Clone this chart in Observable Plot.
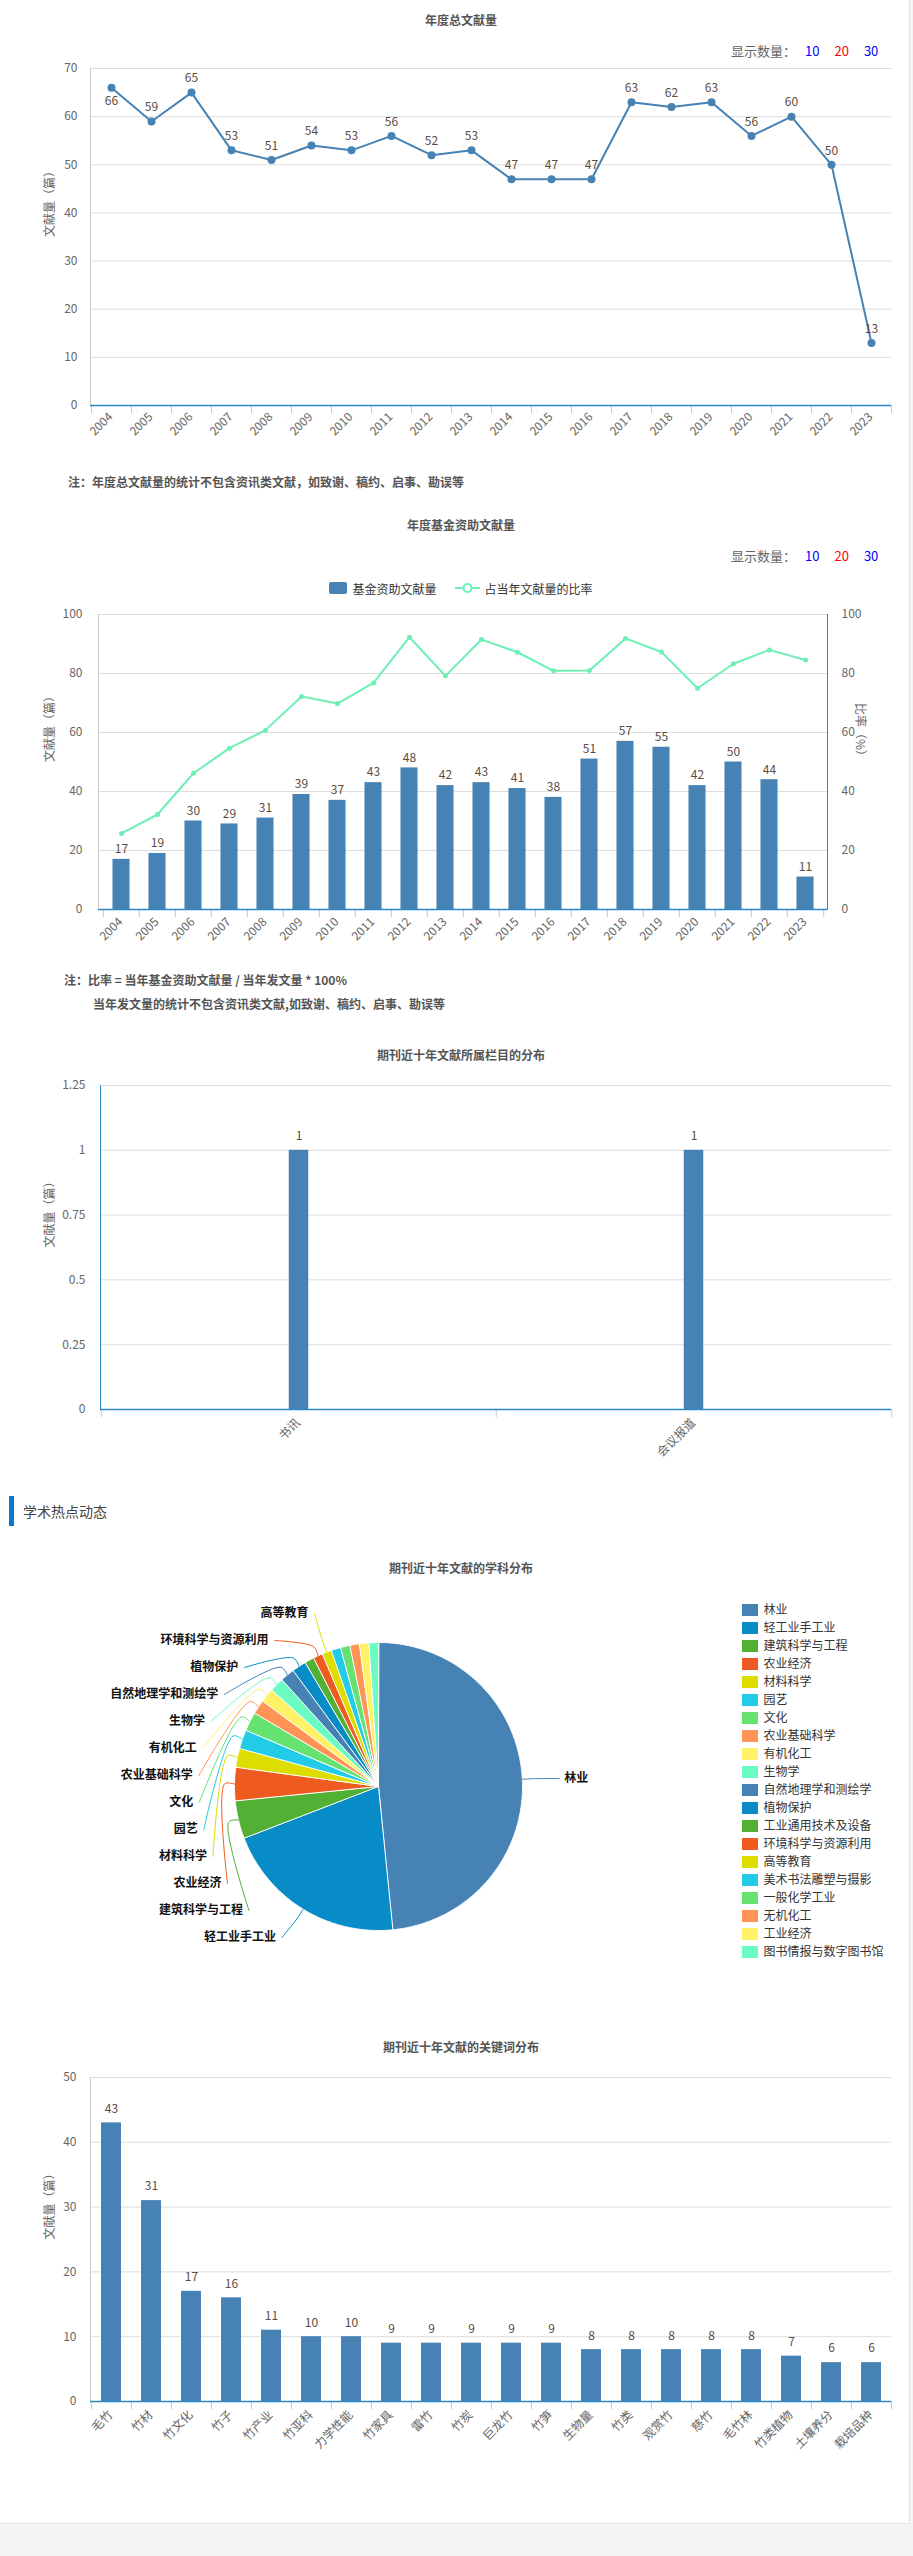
<!DOCTYPE html>
<html><head><meta charset="utf-8">
<script src="https://cdn.jsdelivr.net/npm/d3@7"></script>
<script src="https://cdn.jsdelivr.net/npm/@observablehq/plot@0.6"></script>
<style>
html,body{margin:0;padding:0;background:#f4f4f4;font-family:"Noto Sans CJK SC","Noto Sans",sans-serif;}
#page{position:relative;width:909px;height:2523px;background:#fff;border-right:1px solid #e2e2e2;border-bottom:1px solid #e2e2e2;overflow:visible;}
.chart{position:absolute;left:0;width:913px;}
.title{position:absolute;left:0;width:922px;text-align:center;font-size:12px;line-height:16px;font-weight:bold;color:#555;}
.count{position:absolute;left:731px;font-size:13px;line-height:18px;color:#666;white-space:nowrap;}
.count span{display:inline-block;margin-left:15px;}
.note{position:absolute;font-size:12px;line-height:16px;font-weight:bold;color:#555;white-space:nowrap;}
</style></head>
<body><div id="page">
<div class="title" style="top:12px">年度总文献量</div>
<div class="count" style="top:42px">显示数量：<span style="color:#0000ff;margin-left:9px">10</span><span style="color:#ff0000">20</span><span style="color:#0000ff">30</span></div>
<div class="note" style="top:474px;left:68px">注：年度总文献量的统计不包含资讯类文献，如致谢、稿约、启事、勘误等</div>

<div class="title" style="top:517px">年度基金资助文献量</div>
<div class="count" style="top:547px">显示数量：<span style="color:#0000ff;margin-left:9px">10</span><span style="color:#ff0000">20</span><span style="color:#0000ff">30</span></div>
<div style="position:absolute;top:580px;left:0;width:922px;display:flex;justify-content:center;align-items:center;font-size:12px;color:#333;height:16px">
  <span style="display:inline-block;width:18px;height:12px;background:#4682b4;border-radius:2px"></span>
  <span style="margin-left:5px">基金资助文献量</span>
  <svg width="25" height="14" style="margin-left:18px"><line x1="0" y1="7" x2="25" y2="7" stroke="#6cf0b4" stroke-width="2"/><circle cx="12.5" cy="7" r="4" fill="#fff" stroke="#6cf0b4" stroke-width="2"/></svg>
  <span style="margin-left:5px">占当年文献量的比率</span>
</div>
<div class="note" style="top:972px;left:64px">注：比率 = 当年基金资助文献量 / 当年发文量 * 100%</div>
<div class="note" style="top:996px;left:93px">当年发文量的统计不包含资讯类文献,如致谢、稿约、启事、勘误等</div>

<div class="title" style="top:1047px">期刊近十年文献所属栏目的分布</div>

<div style="position:absolute;left:9px;top:1496px;width:5px;height:30px;background:#0a78d2"></div>
<div style="position:absolute;left:23px;top:1501px;font-size:14px;line-height:20px;color:#444">学术热点动态</div>

<div class="title" style="top:1560px">期刊近十年文献的学科分布</div>
<div class="title" style="top:2039px">期刊近十年文献的关键词分布</div>
</div>
<script>
// ---------- data ----------
const years = ["2004","2005","2006","2007","2008","2009","2010","2011","2012","2013","2014","2015","2016","2017","2018","2019","2020","2021","2022","2023"];
const totalCounts = [66,59,65,53,51,54,53,56,52,53,47,47,47,63,62,63,56,60,50,13];
const fundCounts = [17,19,30,29,31,39,37,43,48,42,43,41,38,51,57,55,42,50,44,11];
const fundRatio = [25.8,32.2,46.2,54.7,60.8,72.2,69.8,76.8,92.3,79.2,91.5,87.2,80.9,81.0,91.9,87.3,75.0,83.3,88.0,84.6];
const columnNames = ["书讯","会议报道"];
const columnCounts = [1,1];
const subjectNames = ["林业","轻工业手工业","建筑科学与工程","农业经济","材料科学","园艺","文化","农业基础科学","有机化工","生物学","自然地理学和测绘学","植物保护","工业通用技术及设备","环境科学与资源利用","高等教育","美术书法雕塑与摄影","一般化学工业","无机化工","工业经济","图书情报与数字图书馆"];
const subjectCounts = [91,39,8,7,4,4,4,3,3,3,3,3,2,2,2,2,2,2,2,2];
const hiddenPieLabels = ["工业通用技术及设备","美术书法雕塑与摄影","一般化学工业","无机化工","工业经济","图书情报与数字图书馆"];
const palette = ["#4682b4","#078cc8","#52b135","#ee5a1f","#dddd00","#22cce6","#66e270","#ff9456","#fff266","#6bfcc4"];
const keywordNames = ["毛竹","竹材","竹文化","竹子","竹产业","竹亚科","力学性能","竹家具","雷竹","竹炭","巨龙竹","竹笋","生物量","竹类","观赏竹","慈竹","毛竹林","竹类植物","土壤养分","栽培品种"];
const keywordCounts = [43,31,17,16,11,10,10,9,9,9,9,9,8,8,8,8,8,7,6,6];

// ---------- styles ----------
const FONT = '"Noto Sans CJK SC","Noto Sans",sans-serif';
const BLUE = "#4682b4", GREEN = "#6cf0b4", AXIS = "#2b88c8", TICK = "#b9cadb", GRID = "#dddddd", TXT = "#666", LBL = "#5b4d45";
const style = {fontSize: "12px", fontFamily: FONT, color: TXT, background: "transparent", overflow: "visible", maxWidth: "none"};
const page = document.getElementById("page");
function mount(top, svg) { const d = document.createElement("div"); d.className = "chart"; d.style.top = top + "px"; d.appendChild(svg); page.appendChild(d); }

function catAxis(domain, step, labelDy) {
  return [
    Plot.axisX({ticks: domain, tickSize: 8, tickFormat: () => "", dx: -step / 2, stroke: TICK, label: null}),
    Plot.axisX({ticks: [domain[domain.length - 1]], tickSize: 8, tickFormat: () => "", dx: step / 2, stroke: TICK, label: null}),
    Plot.ruleY([0], {stroke: AXIS, strokeWidth: 1.5}),
    Plot.text(domain, {x: d => d, frameAnchor: "bottom", dy: labelDy, dx: 2, rotate: -45, textAnchor: "end", fill: TXT})
  ];
}

// ---------- chart 1 ----------
{
  const W = 913, ml = 90, mr = 22;
  const step = (W - ml - mr) / years.length;
  const d1 = years.map((year, i) => ({year, v: totalCounts[i]}));
  mount(60, Plot.plot({
    width: W, height: 400, marginLeft: ml, marginRight: mr, marginTop: 8, marginBottom: 55, style,
    x: {type: "point", domain: years, padding: 0.5},
    y: {domain: [0, 70]},
    marks: [
      Plot.gridY(d3.range(10, 71, 10), {stroke: GRID, strokeOpacity: 1}),
      Plot.frame({anchor: "left", stroke: "#cccccc"}),
      Plot.axisY({ticks: d3.range(0, 71, 10), tickSize: 0, tickPadding: 13, label: null, fill: TXT}),
      ...catAxis(years, step, 12),
      Plot.text(["文献量（篇）"], {frameAnchor: "left", dx: -40, rotate: -90, fill: TXT}),
      Plot.line(d1, {x: "year", y: "v", stroke: BLUE, strokeWidth: 2}),
      Plot.dot(d1, {x: "year", y: "v", r: 4, fill: BLUE}),
      Plot.text(d1.slice(0, 1), {x: "year", y: "v", text: d => String(d.v), dy: 13, fill: LBL}),
      Plot.text(d1.slice(1), {x: "year", y: "v", text: d => String(d.v), dy: -14, fill: LBL})
    ]
  }));
}

// ---------- chart 2 ----------
{
  const W = 913, ml = 98, mr = 86;
  const step = (W - ml - mr) / years.length;
  const inset = (step - 17.5) / 2;
  const d2 = years.map((year, i) => ({year, v: fundCounts[i], r: fundRatio[i]}));
  mount(600, Plot.plot({
    width: W, height: 360, marginLeft: ml, marginRight: mr, marginTop: 14, marginBottom: 51, style,
    x: {type: "band", domain: years, padding: 0},
    y: {domain: [0, 100]},
    marks: [
      Plot.gridY(d3.range(20, 101, 20), {stroke: GRID, strokeOpacity: 1}),
      Plot.frame({anchor: "left", stroke: "#cccccc"}),
      Plot.frame({anchor: "right", stroke: AXIS}),
      Plot.axisY({ticks: d3.range(0, 101, 20), tickSize: 0, tickPadding: 16, label: null, fill: TXT}),
      Plot.axisY({anchor: "right", ticks: d3.range(0, 101, 20), tickSize: 0, tickPadding: 14, label: null, fill: TXT}),
      Plot.barY(d2, {x: "year", y: "v", fill: BLUE, insetLeft: inset, insetRight: inset}),
      ...catAxis(years, step, 13),
      Plot.text(d2, {x: "year", y: "v", text: d => String(d.v), dy: -10, fill: LBL}),
      Plot.line(d2, {x: "year", y: "r", stroke: GREEN, strokeWidth: 2}),
      Plot.dot(d2, {x: "year", y: "r", r: 2.5, fill: GREEN}),
      Plot.text(["文献量（篇）"], {frameAnchor: "left", dx: -48, rotate: -90, fill: TXT}),
      Plot.text(["比率（%）"], {frameAnchor: "right", dx: 32, rotate: 90, fill: TXT})
    ]
  }));
}

// ---------- chart 3 ----------
{
  const W = 913, ml = 100, mr = 22;
  const step = (W - ml - mr) / columnNames.length;
  const inset = (step - 20) / 2;
  const d3c = columnNames.map((name, i) => ({name, v: columnCounts[i]}));
  mount(1070, Plot.plot({
    width: W, height: 400, marginLeft: ml, marginRight: mr, marginTop: 15, marginBottom: 61, style,
    x: {type: "band", domain: columnNames, padding: 0},
    y: {domain: [0, 1.25]},
    marks: [
      Plot.gridY([0.25, 0.5, 0.75, 1, 1.25], {stroke: GRID, strokeOpacity: 1}),
      Plot.frame({anchor: "left", stroke: AXIS}),
      Plot.axisY({ticks: [0, 0.25, 0.5, 0.75, 1, 1.25], tickFormat: d => String(d), tickSize: 0, tickPadding: 15, label: null, fill: TXT}),
      Plot.barY(d3c, {x: "name", y: "v", fill: BLUE, insetLeft: inset, insetRight: inset}),
      ...catAxis(columnNames, step, 14),
      Plot.text(d3c, {x: "name", y: "v", text: d => String(d.v), dy: -14, fill: LBL}),
      Plot.text(["文献量（篇）"], {frameAnchor: "left", dx: -50, rotate: -90, fill: TXT})
    ]
  }));
}

// ---------- chart 4 (pie) ----------
{
  const W = 913, H = 400, cx = 378, cy = 196, R = 144;
  const subjects = subjectNames.map((name, i) => ({name, count: subjectCounts[i]}));
  const arcs = d3.pie().sort(null).value(d => d.count)(subjects);
  const colors = subjectNames.map((_, i) => palette[i % palette.length]);
  const slicePts = [];
  arcs.forEach(a => {
    const name = a.data.name;
    const n = Math.max(2, Math.ceil((a.endAngle - a.startAngle) / (Math.PI / 360)));
    slicePts.push({name, x: cx, y: cy});
    for (let k = 0; k <= n; k++) {
      const t = a.startAngle + (a.endAngle - a.startAngle) * k / n;
      slicePts.push({name, x: cx + R * Math.sin(t), y: cy - R * Math.cos(t)});
    }
  });
  const hidden = new Set(hiddenPieLabels);
  const mid = a => (a.startAngle + a.endAngle) / 2;
  const offset = dy => Math.max(70, 186 * Math.sqrt(Math.max(0, 1 - (dy / 181) ** 2)));
  const leftArcs = arcs.filter(a => mid(a) > Math.PI && !hidden.has(a.data.name)).reverse();
  const rightArcs = arcs.filter(a => mid(a) <= Math.PI && !hidden.has(a.data.name));
  const leftLabels = leftArcs.map((a, i) => {
    const y = 23 + 27 * i;
    return {a, name: a.data.name, x: cx - offset(y - cy), y};
  });
  const rightLabels = rightArcs.map(a => {
    const y = cy - (R + 16) * Math.cos(mid(a));
    return {a, name: a.data.name, x: cx + offset(y - cy), y};
  });
  const leader = [];
  leftLabels.forEach(l => {
    const m = mid(l.a);
    leader.push({name: l.name, x: cx + R * Math.sin(m), y: cy - R * Math.cos(m)});
    leader.push({name: l.name, x: cx + (R + 10) * Math.sin(m), y: cy - (R + 10) * Math.cos(m)});
    leader.push({name: l.name, x: l.x + 6, y: l.y});
  });
  rightLabels.forEach(l => {
    const m = mid(l.a);
    leader.push({name: l.name, x: cx + R * Math.sin(m), y: cy - R * Math.cos(m)});
    leader.push({name: l.name, x: cx + (R + 12) * Math.sin(m), y: cy - (R + 12) * Math.cos(m)});
    leader.push({name: l.name, x: l.x - 5, y: l.y});
  });
  const legendItems = subjectNames.map((name, i) => ({name, y: 20 + 18 * i}));
  mount(1590, Plot.plot({
    width: W, height: H, margin: 0, style,
    x: {domain: [0, W], range: [0, W], axis: null},
    y: {domain: [0, H], range: [0, H], axis: null},
    color: {domain: subjectNames, range: colors},
    marks: [
      Plot.line(slicePts, {x: "x", y: "y", z: "name", fill: "name", stroke: "#ffffff", strokeWidth: 1, curve: "linear-closed"}),
      Plot.line(leader, {x: "x", y: "y", z: "name", stroke: "name", strokeWidth: 1, curve: "catmull-rom"}),
      Plot.text(leftLabels, {x: "x", y: "y", text: "name", textAnchor: "end", fill: "#111", fontWeight: "bold"}),
      Plot.text(rightLabels, {x: "x", y: "y", text: "name", textAnchor: "start", fill: "#111", fontWeight: "bold"}),
      Plot.rect(legendItems, {x1: 742, x2: 758, y1: d => d.y - 6, y2: d => d.y + 6, fill: "name"}),
      Plot.text(legendItems, {x: 763, y: "y", text: "name", textAnchor: "start", fill: "#333"})
    ]
  }));
}

// ---------- chart 5 ----------
{
  const W = 913, ml = 90, mr = 22;
  const step = (W - ml - mr) / keywordNames.length;
  const inset = (step - 20) / 2;
  const d5 = keywordNames.map((name, i) => ({name, v: keywordCounts[i]}));
  mount(2065, Plot.plot({
    width: W, height: 420, marginLeft: ml, marginRight: mr, marginTop: 12, marginBottom: 84, style,
    x: {type: "band", domain: keywordNames, padding: 0},
    y: {domain: [0, 50]},
    marks: [
      Plot.gridY(d3.range(10, 51, 10), {stroke: GRID, strokeOpacity: 1}),
      Plot.frame({anchor: "left", stroke: "#cccccc"}),
      Plot.axisY({ticks: d3.range(0, 51, 10), tickSize: 0, tickPadding: 14, label: null, fill: TXT}),
      Plot.barY(d5, {x: "name", y: "v", fill: BLUE, insetLeft: inset, insetRight: inset}),
      ...catAxis(keywordNames, step, 14),
      Plot.text(d5, {x: "name", y: "v", text: d => String(d.v), dy: -14, fill: LBL}),
      Plot.text(["文献量（篇）"], {frameAnchor: "left", dx: -40, rotate: -90, fill: TXT})
    ]
  }));
}
</script>
</body></html>
